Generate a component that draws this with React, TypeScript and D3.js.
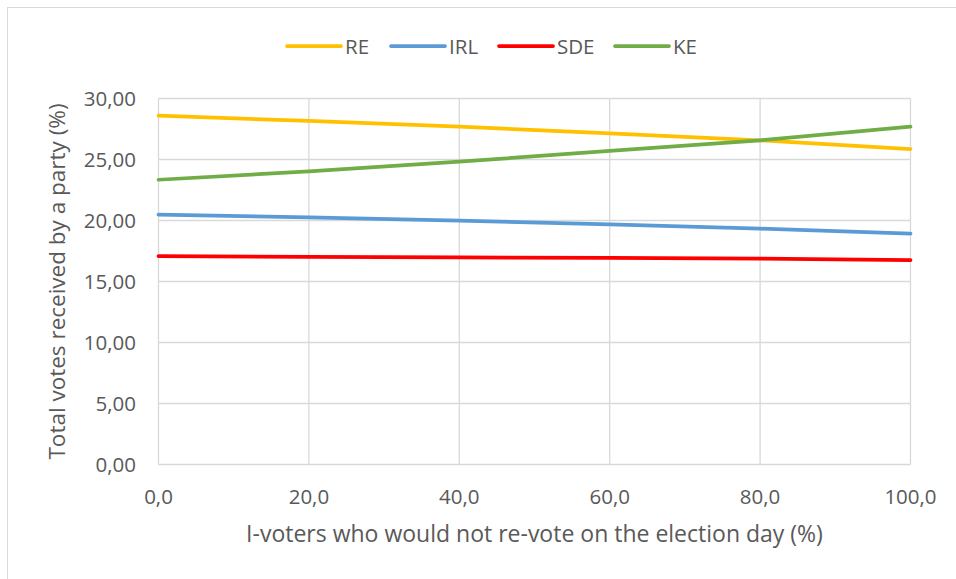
import React from "react";
import * as d3 from "d3";

// Share of I-voters who would not re-vote on election day (%)
const xValues = [0, 20, 40, 60, 80, 100];

// Total votes per party (%) at each x value
const reVotes = [28.59, 28.16, 27.69, 27.15, 26.57, 25.86];
const irlVotes = [20.48, 20.26, 19.98, 19.69, 19.33, 18.92];
const sdeVotes = [17.09, 17.01, 16.98, 16.93, 16.87, 16.76];
const keVotes = [23.34, 24.03, 24.82, 25.7, 26.57, 27.69];

const partyNames = ["RE", "IRL", "SDE", "KE"];
const partyColors = ["#FFC000", "#5B9BD5", "#FF0000", "#70AD47"];

const xTicks = [0, 20, 40, 60, 80, 100];
const yTicks = [0, 5, 10, 15, 20, 25, 30];

const xTitle = "I-voters who would not re-vote on the election day (%)";
const yTitle = "Total votes received by a party (%)";

const W = 956;
const H = 579;
const FONT = "'Open Sans', 'Noto Sans', sans-serif";
const TEXT = "#595959";
const GRID = "#D9D9D9";

export default function App() {
  const x = d3.scaleLinear().domain([0, 100]).range([158.5, 910.5]);
  const y = d3.scaleLinear().domain([0, 30]).range([464.5, 98.5]);

  const series = [reVotes, irlVotes, sdeVotes, keVotes];
  const line = d3
    .line<number>()
    .x((_, i) => x(xValues[i]))
    .y((d) => y(d));

  const fmt = (v: number, digits: number) => v.toFixed(digits).replace(".", ",");

  // legend entries laid out left to right
  const legendX = [287, 391, 499, 615];
  const legendY = 46;
  const legendLen = 54;

  return (
    <svg
      width={W}
      height={H}
      style={{ position: "absolute", left: 0, top: 0, background: "#fff" }}
      fontFamily={FONT}
    >
      <rect x={0} y={0} width={W} height={H} fill="#fff" />
      <rect x={7.5} y={7.5} width={W + 20} height={H + 20} fill="none" stroke={GRID} strokeWidth={1} />

      {/* gridlines */}
      {yTicks.map((t) => (
        <line key={"gy" + t} x1={x(0)} x2={x(100)} y1={y(t)} y2={y(t)} stroke={GRID} strokeWidth={1.3} />
      ))}
      {xTicks.map((t) => (
        <line key={"gx" + t} x1={x(t)} x2={x(t)} y1={y(0)} y2={y(30)} stroke={GRID} strokeWidth={1.3} />
      ))}

      {/* y tick labels */}
      {yTicks.map((t) => (
        <text key={"ly" + t} x={136} y={y(t) + 7.5} textAnchor="end" fontSize={20.5} fill={TEXT}>
          {fmt(t, 2)}
        </text>
      ))}
      {/* x tick labels */}
      {xTicks.map((t) => (
        <text key={"lx" + t} x={x(t)} y={504} textAnchor="middle" fontSize={20.5} fill={TEXT}>
          {fmt(t, 1)}
        </text>
      ))}

      {/* axis titles */}
      <text x={(x(0) + x(100)) / 2} y={542} textAnchor="middle" fontSize={23} fill={TEXT}>
        {xTitle}
      </text>
      <text
        transform={`translate(65, ${(y(0) + y(30)) / 2}) rotate(-90)`}
        textAnchor="middle"
        fontSize={22.5}
        fill={TEXT}
      >
        {yTitle}
      </text>

      {/* party lines */}
      {series.map((s, i) => (
        <path
          key={partyNames[i]}
          d={line(s) || ""}
          fill="none"
          stroke={partyColors[i]}
          strokeWidth={3.75}
          strokeLinejoin="round"
          strokeLinecap="round"
        />
      ))}

      {/* legend */}
      {partyNames.map((name, i) => (
        <g key={"leg" + name}>
          <line
            x1={legendX[i]}
            x2={legendX[i] + legendLen}
            y1={legendY}
            y2={legendY}
            stroke={partyColors[i]}
            strokeWidth={3.75}
            strokeLinecap="round"
          />
          <text x={legendX[i] + legendLen + 4} y={legendY + 7.5} fontSize={20.5} fill={TEXT}>
            {name}
          </text>
        </g>
      ))}
    </svg>
  );
}
